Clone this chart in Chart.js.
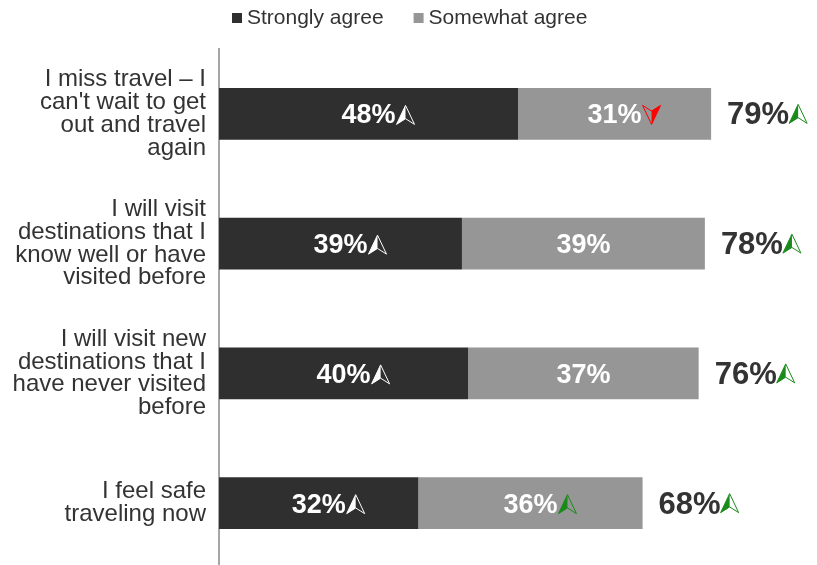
<!DOCTYPE html>
<html>
<head>
<meta charset="utf-8">
<script src="https://cdn.jsdelivr.net/npm/chart.js@4.4.1/dist/chart.umd.min.js"></script>
<style>
  html, body { margin: 0; padding: 0; background: #fff; overflow: hidden; }
  #travelChart { display: block; }
</style>
</head>
<body>
<canvas id="travelChart" width="817" height="568"></canvas>
<script>
// datos del grafico
const categories = [
    ["I miss travel \u2013 I", "can't wait to get", "out and travel", "again"],
    ["I will visit", "destinations that I", "know well or have", "visited before"],
    ["I will visit new", "destinations that I", "have never visited", "before"],
    ["I feel safe", "traveling now"]
];
const stronglyAgree = [48, 39, 40, 32];
const somewhatAgree = [31, 39, 37, 36];
const totals = [79, 78, 76, 68];
// flechas de tendencia: "up", "down" o null
const stronglyTrend = ["up", "up", "up", "up"];
const somewhatTrend = ["down", null, null, "up"];
const totalTrend = ["up", "up", "up", "up"];

const FONT = "'Liberation Sans', Arial, sans-serif";
const DARK = "#2f2f2f";
const LIGHT = "#969696";

// flecha tipo navegacion, mitad rellena
const drawArrow = (ctx, x, cy, dir, color) => {
    const w = 18, h = 19;
    const cx = x + w / 2;
    ctx.save();
    ctx.translate(cx, cy);
    if (dir === "down") ctx.rotate(Math.PI);
    const top = -h / 2, bot = h / 2, notch = h / 2 - h * 0.3;
    ctx.fillStyle = color;
    ctx.strokeStyle = color;
    ctx.lineWidth = 1;
    ctx.beginPath();
    ctx.moveTo(0, top);
    ctx.lineTo(-w / 2, bot);
    ctx.lineTo(0, notch);
    ctx.closePath();
    ctx.fill();
    ctx.beginPath();
    ctx.moveTo(0, top);
    ctx.lineTo(-w / 2, bot);
    ctx.lineTo(0, notch);
    ctx.lineTo(w / 2, bot);
    ctx.closePath();
    ctx.stroke();
    ctx.restore();
};

const trendColor = (dir, base) => dir === "down" ? "#ff0000" : base;

const labelsPlugin = {
    id: "barLabels",
    afterDatasetsDraw(chart) {
        const ctx = chart.ctx;
        const trends = [stronglyTrend, somewhatTrend];
        ctx.save();
        ctx.textBaseline = "middle";
        chart.data.datasets.forEach((ds, di) => {
            const meta = chart.getDatasetMeta(di);
            meta.data.forEach((bar, i) => {
                const text = ds.data[i] + "%";
                ctx.font = "bold 27px " + FONT;
                ctx.textAlign = "center";
                ctx.fillStyle = "#fff";
                const cx = (bar.base + bar.x) / 2;
                ctx.fillText(text, cx, bar.y + 2);
                const dir = trends[di][i];
                if (dir) {
                    const tw = ctx.measureText(text).width;
                    const base = di === 0 ? "#ffffff" : "#1a8a1a";
                    drawArrow(ctx, cx + tw / 2 + 1, bar.y + 1, dir, trendColor(dir, base));
                }
            });
        });
        // totales
        const last = chart.getDatasetMeta(chart.data.datasets.length - 1);
        last.data.forEach((bar, i) => {
            const text = totals[i] + "%";
            ctx.font = "bold 31px " + FONT;
            ctx.textAlign = "left";
            ctx.fillStyle = "#333";
            const x = bar.x + 16;
            ctx.fillText(text, x, bar.y + 2);
            const tw = ctx.measureText(text).width;
            if (totalTrend[i]) drawArrow(ctx, x + tw, bar.y, totalTrend[i], trendColor(totalTrend[i], "#1a8a1a"));
        });
        ctx.restore();
    }
};

// leyenda propia arriba
const legendPlugin = {
    id: "topLegend",
    afterDraw(chart) {
        const ctx = chart.ctx;
        ctx.save();
        ctx.font = "21px " + FONT;
        ctx.textBaseline = "middle";
        ctx.textAlign = "left";
        let x = 232;
        const y = 18;
        chart.data.datasets.forEach(ds => {
            ctx.fillStyle = ds.backgroundColor;
            ctx.fillRect(x, y - 5, 10, 10);
            ctx.fillStyle = "#333";
            ctx.fillText(ds.label, x + 15, y);
            x += 15 + ctx.measureText(ds.label).width + 30;
        });
        ctx.restore();
    }
};

const data = {
    labels: categories,
    datasets: [
        { label: "Strongly agree", data: stronglyAgree, backgroundColor: DARK },
        { label: "Somewhat agree", data: somewhatAgree, backgroundColor: LIGHT }
    ]
};

const options = {
    indexAxis: "y",
    responsive: false,
    animation: false,
    layout: { padding: { top: 49, left: 0, right: 0, bottom: 0 } },
    datasets: { bar: { barPercentage: 0.4, categoryPercentage: 1, borderWidth: 0 } },
    plugins: { legend: { display: false }, tooltip: { enabled: false } },
    scales: {
        x: { stacked: true, min: 0, max: 96, display: false },
        y: {
            stacked: true,
            afterFit: (scale) => {
                scale.width = 219;
                scale.paddingTop = 0;
                scale.paddingBottom = 0;
            },
            grid: { display: false, drawTicks: false },
            border: { display: true, color: "#a6a6a6", width: 2 },
            ticks: {
                padding: 13,
                color: "#333",
                font: { family: FONT, size: 24, lineHeight: 0.95 }
            }
        }
    }
};

new Chart("travelChart", { type: "bar", data, options, plugins: [labelsPlugin, legendPlugin] });
</script>
</body>
</html>
